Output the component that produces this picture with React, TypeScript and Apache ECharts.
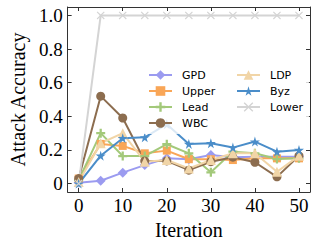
import React, { useEffect, useRef } from 'react';
import * as echarts from 'echarts';

const iterations = [0, 5, 10, 15, 20, 25, 30, 35, 40, 45, 50];
const gpd = [0.005, 0.017, 0.065, 0.11, 0.15, 0.145, 0.17, 0.157, 0.16, 0.16, 0.16];
const upper = [0.03, 0.236, 0.224, 0.18, 0.196, 0.145, 0.145, 0.14, 0.15, 0.15, 0.15];
const lead = [0.02, 0.3, 0.164, 0.164, 0.234, 0.18, 0.067, 0.19, 0.18, 0.146, 0.15];
const wbc = [0.03, 0.52, 0.39, 0.135, 0.135, 0.08, 0.13, 0.157, 0.127, 0.04, 0.165];
const ldp = [0.01, 0.24, 0.3, 0.13, 0.14, 0.09, 0.14, 0.18, 0.18, 0.07, 0.165];
const byz = [0, 0.166, 0.27, 0.275, 0.353, 0.236, 0.24, 0.214, 0.25, 0.19, 0.2];
const lower = [0, 1, 1, 1, 1, 1, 1, 1, 1, 1, 1];
const xTicks = [0, 10, 20, 30, 40, 50];
const yTicks = [0, 0.2, 0.4, 0.6, 0.8, 1.0];

const PLUS = 'path://M3,0H5V3H8V5H5V8H3V5H0V3H3Z';
const STAR = 'path://M50,0L61,35L98,35L68,57L79,91L50,70L21,91L32,57L2,35L39,35Z';
const CROSS = 'path://M0,1L1,0L5,4L9,0L10,1L6,5L10,9L9,10L5,6L1,10L0,9L4,5Z';

const seriesDefs = [
  { name: 'GPD', data: gpd, color: '#9b9bf0', symbol: 'diamond', size: 10 },
  { name: 'Upper', data: upper, color: '#f9a657', symbol: 'rect', size: 8 },
  { name: 'Lead', data: lead, color: '#a3c97a', symbol: PLUS, size: 9 },
  { name: 'WBC', data: wbc, color: '#8c6d4f', symbol: 'circle', size: 9 },
  { name: 'LDP', data: ldp, color: '#f1d5a7', symbol: 'triangle', size: 10 },
  { name: 'Byz', data: byz, color: '#4a8dc9', symbol: STAR, size: 10 },
  { name: 'Lower', data: lower, color: '#d4d4d4', symbol: CROSS, size: 8 },
];

const AXIS_COLOR = '#333';
const SERIF = '"Liberation Serif", "Times New Roman", serif';

export default function App() {
  const ref = useRef<HTMLDivElement>(null);
  useEffect(() => {
    if (!ref.current) return;
    const chart = echarts.init(ref.current, undefined, { renderer: 'svg' });
    const legendCommon = {
      orient: 'vertical' as const,
      itemWidth: 23,
      itemHeight: 12,
      itemGap: 2,
      padding: [4, 6, 4, 6],
      backgroundColor: 'rgba(255,255,255,0.8)',
      textStyle: {
        fontFamily: '"DejaVu Sans", sans-serif',
        fontSize: 11,
        color: '#000',
        lineHeight: 14,
        padding: [0, 0, 0, 5],
      },
    };
    const baseAxis = {
      type: 'value' as const,
      splitLine: { show: false },
      axisLine: { show: true, onZero: false, lineStyle: { color: AXIS_COLOR, width: 1 } },
    };
    chart.setOption({
      animation: false,
      grid: { left: 62, right: 9, top: 7, bottom: 56, containLabel: false },
      legend: [
        { ...legendCommon, left: 142, top: 64, data: ['GPD', 'Upper', 'Lead', 'WBC'] },
        { ...legendCommon, left: 230, top: 64, data: ['LDP', 'Byz', 'Lower'] },
      ],
      xAxis: [
        {
          ...baseAxis,
          position: 'bottom',
          min: -2.5,
          max: 52.5,
          name: 'Iteration',
          nameLocation: 'middle',
          nameGap: 27,
          nameTextStyle: { fontFamily: SERIF, fontSize: 20, color: '#000' },
          axisTick: { show: true, inside: true, length: 4, customValues: xTicks, lineStyle: { color: AXIS_COLOR } },
          axisLabel: { customValues: xTicks, fontFamily: SERIF, fontSize: 19, color: '#000', margin: 4 },
        },
        {
          ...baseAxis,
          position: 'top',
          min: -2.5,
          max: 52.5,
          axisTick: { show: true, inside: true, length: 4, customValues: xTicks, lineStyle: { color: AXIS_COLOR } },
          axisLabel: { show: false },
        },
      ],
      yAxis: [
        {
          ...baseAxis,
          position: 'left',
          min: -0.05,
          max: 1.05,
          name: 'Attack Accuracy',
          nameLocation: 'middle',
          nameGap: 38,
          nameTextStyle: { fontFamily: SERIF, fontSize: 20, color: '#000' },
          axisTick: { show: true, inside: true, length: 4, customValues: yTicks, lineStyle: { color: AXIS_COLOR } },
          axisLabel: {
            customValues: yTicks,
            fontFamily: SERIF,
            fontSize: 19,
            color: '#000',
            margin: 5,
            formatter: (v: number) => (Math.abs(v) < 1e-9 ? '0' : v.toFixed(1)),
          },
        },
        {
          ...baseAxis,
          position: 'right',
          min: -0.05,
          max: 1.05,
          axisTick: { show: true, inside: true, length: 4, customValues: yTicks, lineStyle: { color: AXIS_COLOR } },
          axisLabel: { show: false },
        },
      ],
      series: seriesDefs.map((s) => ({
        name: s.name,
        type: 'line',
        xAxisIndex: 0,
        yAxisIndex: 0,
        data: iterations.map((x, i) => [x, s.data[i]]),
        symbol: s.symbol,
        symbolSize: s.size,
        showSymbol: true,
        lineStyle: { color: s.color, width: 2 },
        itemStyle: { color: s.color },
        emphasis: { disabled: true },
      })),
    });
    return () => chart.dispose();
  }, []);
  return (
    <div
      ref={ref}
      style={{ position: 'fixed', left: 0, top: 0, width: 319, height: 248, background: '#fff' }}
    />
  );
}
